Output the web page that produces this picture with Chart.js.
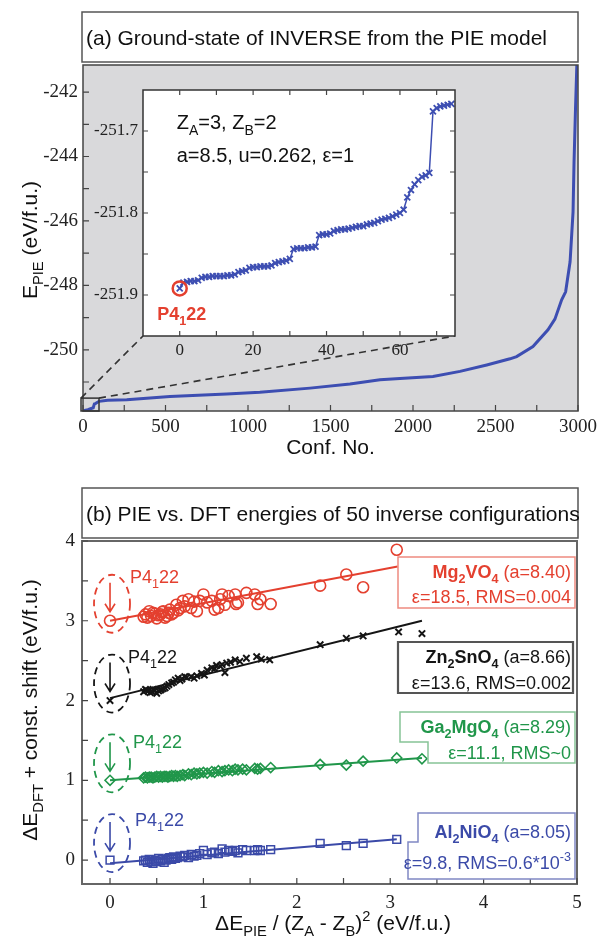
<!DOCTYPE html>
<html>
<head>
<meta charset="utf-8">
<script src="https://cdn.jsdelivr.net/npm/chart.js@4.4.0/dist/chart.umd.min.js"></script>
<style>
  body { margin: 0; background: #fff; width: 601px; height: 938px; position: relative; overflow: hidden; }
  canvas { position: absolute; }
</style>
</head>
<body>
<canvas id="mainChart" width="601" height="470"></canvas>
<canvas id="insetChart" width="380" height="290"></canvas>
<canvas id="pieDftChart" width="601" height="468"></canvas>
<script>
// ---- (a) sorted PIE energies ----
const confNo = [0, 30, 62, 69, 75, 97, 150, 265, 527, 871, 1072, 1376, 1618, 1800, 1921, 2121, 2285, 2447, 2588, 2628, 2727, 2818, 2860, 2901, 2925, 2952, 2970, 2976, 2985, 2993];
const ePie = [-251.89, -251.86, -251.80, -251.68, -251.67, -251.60, -251.57, -251.55, -251.45, -251.37, -251.32, -251.19, -251.06, -250.93, -250.89, -250.83, -250.67, -250.47, -250.28, -250.21, -249.90, -249.38, -249.05, -248.45, -248.20, -247.27, -245.72, -244.17, -242.50, -241.16];

// inset: the 75 lowest configurations (index = conf. no.)
const insetE = [
  -251.892, -251.885, -251.884, -251.883, -251.883, -251.882, -251.879, -251.878, -251.878, -251.877,
  -251.877, -251.877, -251.877, -251.876, -251.876, -251.875, -251.872, -251.871, -251.870, -251.867,
  -251.866, -251.866, -251.865, -251.865, -251.865, -251.864, -251.861, -251.860, -251.859, -251.858,
  -251.856, -251.844, -251.843, -251.843, -251.843, -251.842, -251.842, -251.841, -251.827, -251.826,
  -251.826, -251.825, -251.822, -251.821, -251.820, -251.820, -251.819, -251.818, -251.817, -251.816,
  -251.816, -251.814, -251.813, -251.812, -251.810, -251.808, -251.807, -251.806, -251.804, -251.802,
  -251.800, -251.796, -251.781, -251.772, -251.765, -251.760, -251.756, -251.754, -251.751, -251.676,
  -251.672, -251.670, -251.669, -251.668, -251.667
];

const mainXTicks = [0, 500, 1000, 1500, 2000, 2500, 3000];
const mainYTicks = [-250, -248, -246, -244, -242];
const mainXMarks = [0, 250, 500, 750, 1000, 1250, 1500, 1750, 2000, 2250, 2500, 2750, 3000];
const mainYMarks = [-251, -250, -249, -248, -247, -246, -245, -244, -243, -242];
const insetXTicks = [0, 20, 40, 60];
const insetYTicks = [-251.9, -251.8, -251.7];
const insetXMarks = [0, 10, 20, 30, 40, 50, 60, 70];
const insetYMarks = [-251.9, -251.85, -251.8, -251.75, -251.7];

// ---- (b) PIE vs DFT ----
const mgX = [0, 0.36, 0.38, 0.40, 0.42, 0.44, 0.46, 0.48, 0.50, 0.52, 0.54, 0.56, 0.57, 0.59, 0.61, 0.63, 0.64, 0.66, 0.68, 0.71, 0.73, 0.75, 0.78, 0.80, 0.84, 0.87, 0.90, 0.93, 0.96, 1.00, 1.04, 1.09, 1.12, 1.16, 1.18, 1.20, 1.23, 1.27, 1.34, 1.35, 1.37, 1.46, 1.55, 1.58, 1.61, 1.72, 2.25, 2.53, 2.71, 3.07];
const mgY = [3.00, 3.05, 3.08, 3.04, 3.12, 3.06, 3.10, 3.09, 3.03, 3.07, 3.08, 3.11, 3.12, 3.04, 3.06, 3.10, 3.14, 3.08, 3.10, 3.20, 3.13, 3.16, 3.25, 3.18, 3.27, 3.16, 3.24, 3.12, 3.25, 3.33, 3.23, 3.25, 3.14, 3.16, 3.27, 3.33, 3.20, 3.31, 3.33, 3.21, 3.23, 3.35, 3.33, 3.21, 3.27, 3.21, 3.44, 3.58, 3.42, 3.89];
const znX = [0, 0.36, 0.38, 0.39, 0.41, 0.43, 0.45, 0.46, 0.48, 0.50, 0.52, 0.54, 0.55, 0.57, 0.59, 0.61, 0.63, 0.66, 0.68, 0.70, 0.73, 0.75, 0.77, 0.80, 0.82, 0.87, 0.90, 0.93, 0.98, 1.01, 1.04, 1.09, 1.12, 1.14, 1.18, 1.20, 1.23, 1.25, 1.29, 1.34, 1.39, 1.46, 1.57, 1.62, 1.71, 2.25, 2.53, 2.71, 3.09, 3.34];
const znY = [2.00, 2.11, 2.14, 2.13, 2.12, 2.10, 2.11, 2.14, 2.13, 2.09, 2.12, 2.13, 2.14, 2.15, 2.16, 2.18, 2.20, 2.22, 2.23, 2.26, 2.28, 2.25, 2.27, 2.30, 2.29, 2.30, 2.28, 2.31, 2.34, 2.32, 2.38, 2.41, 2.40, 2.44, 2.43, 2.45, 2.35, 2.47, 2.48, 2.51, 2.49, 2.53, 2.55, 2.52, 2.51, 2.70, 2.78, 2.81, 2.86, 2.84];
const gaX = [0, 0.36, 0.38, 0.40, 0.42, 0.44, 0.46, 0.48, 0.50, 0.52, 0.54, 0.56, 0.58, 0.60, 0.62, 0.64, 0.66, 0.68, 0.70, 0.72, 0.75, 0.78, 0.80, 0.84, 0.87, 0.90, 0.93, 0.96, 1.00, 1.04, 1.09, 1.12, 1.16, 1.20, 1.23, 1.27, 1.31, 1.34, 1.37, 1.42, 1.46, 1.55, 1.58, 1.61, 1.72, 2.25, 2.53, 2.71, 3.07, 3.34];
const gaY = [1.00, 1.03, 1.04, 1.03, 1.04, 1.04, 1.03, 1.04, 1.05, 1.04, 1.05, 1.04, 1.05, 1.05, 1.04, 1.05, 1.06, 1.05, 1.06, 1.05, 1.06, 1.07, 1.06, 1.08, 1.07, 1.09, 1.08, 1.09, 1.10, 1.09, 1.11, 1.10, 1.12, 1.11, 1.12, 1.13, 1.12, 1.14, 1.13, 1.14, 1.13, 1.15, 1.14, 1.15, 1.16, 1.20, 1.19, 1.24, 1.28, 1.27];
const alX = [0, 0.36, 0.38, 0.40, 0.42, 0.44, 0.46, 0.48, 0.50, 0.52, 0.54, 0.56, 0.58, 0.60, 0.62, 0.64, 0.66, 0.68, 0.70, 0.72, 0.75, 0.78, 0.80, 0.84, 0.87, 0.90, 0.93, 0.96, 1.00, 1.04, 1.09, 1.12, 1.16, 1.20, 1.23, 1.27, 1.31, 1.34, 1.37, 1.42, 1.46, 1.55, 1.58, 1.61, 1.72, 2.25, 2.53, 2.71, 3.07];
const alY = [0.00, -0.01, 0.00, -0.03, 0.01, -0.02, -0.04, 0.00, -0.02, 0.02, -0.01, 0.01, -0.03, 0.00, 0.02, 0.03, 0.01, 0.04, 0.02, 0.03, 0.05, 0.04, 0.06, 0.03, 0.07, 0.05, 0.06, 0.08, 0.12, 0.07, 0.09, 0.10, 0.08, 0.14, 0.10, 0.12, 0.11, 0.12, 0.09, 0.13, 0.12, 0.12, 0.13, 0.12, 0.13, 0.21, 0.18, 0.21, 0.26];

// linear fits (end points)
const mgFitX = [0, 3.08], mgFitY = [3.00, 3.68];
const znFitX = [0, 3.34], znFitY = [2.03, 3.00];
const gaFitX = [0, 3.34], gaFitY = [1.00, 1.28];
const alFitX = [0, 3.07], alFitY = [-0.04, 0.26];

const bXTicks = [0, 1, 2, 3, 4, 5];
const bYTicks = [0, 1, 2, 3, 4];
const bXMarks = [0, 0.5, 1, 1.5, 2, 2.5, 3, 3.5, 4, 4.5, 5];
const bYMarks = [0, 0.5, 1, 1.5, 2, 2.5, 3, 3.5, 4];
const groundBase = [3, 2, 1, 0];   // P4122 energy of each compound (shifted)

const RED = '#e4402f', BLACK = '#151515', GREEN = '#20964a', BLUE = '#3b4aa8', LINE_BLUE = '#3d4eb2';
const INSET_LEFT = 88, INSET_TOP = 80;

Chart.defaults.font.family = 'Liberation Sans';
Chart.defaults.animation = false;

// text with sub/superscripts: parts = [[text, 'sub'|'sup'|'', bold]]
function richText(ctx, parts, x, y, o) {
  const fam = o.family || 'Liberation Sans';
  const segs = parts.map(p => {
    const sz = p[1] ? o.size * 0.7 : o.size;
    const font = ((p[2] || o.bold) ? 'bold ' : '') + sz + 'px "' + fam + '"';
    ctx.font = font;
    return { t: p[0], k: p[1], font, w: ctx.measureText(p[0]).width };
  });
  const total = segs.reduce((s, g) => s + g.w, 0);
  let cx = o.align === 'right' ? x - total : o.align === 'center' ? x - total / 2 : x;
  ctx.fillStyle = o.color || '#111';
  ctx.textAlign = 'left';
  ctx.textBaseline = 'alphabetic';
  segs.forEach(g => {
    ctx.font = g.font;
    const dy = g.k === 'sub' ? o.size * 0.28 : g.k === 'sup' ? -o.size * 0.42 : 0;
    ctx.fillText(g.t, cx, y + dy);
    cx += g.w;
  });
}

function inTicks(chart, xs, ys, len, allSides) {
  const { ctx, chartArea: a, scales: { x, y } } = chart;
  ctx.save();
  ctx.strokeStyle = '#444';
  ctx.lineWidth = 1.2;
  ctx.beginPath();
  xs.forEach(v => {
    const p = x.getPixelForValue(v);
    ctx.moveTo(p, a.bottom); ctx.lineTo(p, a.bottom - len);
    if (allSides) { ctx.moveTo(p, a.top); ctx.lineTo(p, a.top + len); }
  });
  ys.forEach(v => {
    const p = y.getPixelForValue(v);
    ctx.moveTo(a.left, p); ctx.lineTo(a.left + len, p);
    if (allSides) { ctx.moveTo(a.right, p); ctx.lineTo(a.right - len, p); }
  });
  ctx.stroke();
  ctx.restore();
}

function frame(chart, color, width) {
  const { ctx, chartArea: a } = chart;
  ctx.save();
  ctx.strokeStyle = color;
  ctx.lineWidth = width;
  ctx.strokeRect(a.left, a.top, a.right - a.left, a.bottom - a.top);
  ctx.restore();
}

function titleBox(ctx, text, x, y, w, h) {
  ctx.save();
  ctx.fillStyle = '#fff';
  ctx.fillRect(x, y, w, h);
  ctx.strokeStyle = '#555';
  ctx.lineWidth = 1.5;
  ctx.strokeRect(x, y, w, h);
  ctx.fillStyle = '#111';
  ctx.font = '21px "Liberation Sans"';
  ctx.textBaseline = 'alphabetic';
  ctx.fillText(text, x + 4, y + h / 2 + 7.5);
  ctx.restore();
}

function scaleOpts(min, max, ticks, size, pad, fontSize, horizontal, fmt) {
  return {
    type: 'linear', min, max,
    afterBuildTicks: s => { s.ticks = ticks.map(v => ({ value: v })); },
    afterFit: s => {
      if (horizontal) { s.height = size; s.paddingLeft = 0; s.paddingRight = 0; }
      else { s.width = size; s.paddingTop = 0; s.paddingBottom = 0; }
    },
    grid: { display: false, drawTicks: false },
    border: { display: false },
    ticks: {
      padding: pad, color: '#222', autoSkip: false, maxRotation: 0,
      font: { family: 'Liberation Serif', size: fontSize },
      callback: fmt || (v => String(v))
    }
  };
}

// ---------- inset ----------
const insetCanvas = document.getElementById('insetChart');
insetCanvas.style.left = INSET_LEFT + 'px';
insetCanvas.style.top = INSET_TOP + 'px';

const insetPlugin = {
  id: 'insetDeco',
  beforeDatasetsDraw(chart) {
    const { ctx, chartArea: a } = chart;
    ctx.save();
    ctx.fillStyle = '#fff';
    ctx.fillRect(a.left, a.top, a.right - a.left, a.bottom - a.top);
    ctx.restore();
  },
  afterDraw(chart) {
    const { ctx, scales: { x, y } } = chart;
    frame(chart, '#333', 1.5);
    inTicks(chart, insetXMarks, insetYMarks, 5, true);
    const l = x.getPixelForValue(0) - 3;
    richText(ctx, [['Z'], ['A', 'sub'], ['=3, Z'], ['B', 'sub'], ['=2']], l, 49, { size: 20 });
    richText(ctx, [['a=8.5, u=0.262, ε=1']], l, 82, { size: 20 });
    const px = x.getPixelForValue(0), py = y.getPixelForValue(insetE[0]);
    richText(ctx, [['P4'], ['1', 'sub'], ['22']], px + 2, py + 32, { size: 18, bold: true, color: RED, align: 'center' });
  }
};

const insetChart = new Chart(insetCanvas, {
  type: 'line',
  data: {
    datasets: [
      {
        data: [{ x: 0, y: insetE[0] }],
        showLine: false, pointStyle: 'circle', pointRadius: 7,
        pointBorderWidth: 2.5, pointBorderColor: RED, pointBackgroundColor: 'rgba(0,0,0,0)'
      },
      {
        data: insetE.map((e, i) => ({ x: i, y: e })),
        borderColor: LINE_BLUE, borderWidth: 1.5, pointStyle: 'crossRot', pointRadius: 4.2,
        pointBorderWidth: 1.8, pointBorderColor: LINE_BLUE, tension: 0
      }
    ]
  },
  options: {
    responsive: false, devicePixelRatio: 1,
    layout: { autoPadding: false, padding: { left: 0, top: 10, right: 13, bottom: 0 } },
    plugins: { legend: { display: false }, tooltip: { enabled: false } },
    scales: {
      x: scaleOpts(-10, 75, insetXTicks, 34, 4, 17, true),
      y: scaleOpts(-251.95, -251.65, insetYTicks, 55, 5, 17, false, v => v.toFixed(1))
    }
  },
  plugins: [insetPlugin]
});

// ---------- (a) main ----------
const mainPlugin = {
  id: 'mainDeco',
  beforeDatasetsDraw(chart) {
    const { ctx, chartArea: a } = chart;
    ctx.save();
    ctx.fillStyle = '#d9d9db';
    ctx.fillRect(a.left, a.top, a.right - a.left, a.bottom - a.top);
    ctx.restore();
  },
  afterDraw(chart) {
    const { ctx, chartArea: a, scales: { x, y } } = chart;
    frame(chart, '#444', 1.5);
    inTicks(chart, mainXMarks, mainYMarks, 6, false);
    // zoom box and guide lines to the inset
    const rl = x.getPixelForValue(-12), rr = x.getPixelForValue(97), rt = y.getPixelForValue(-251.5);
    ctx.save();
    ctx.strokeStyle = '#333';
    ctx.lineWidth = 1.5;
    ctx.strokeRect(rl, rt, rr - rl, a.bottom - rt);
    const ia = insetChart.chartArea;
    ctx.setLineDash([7, 5]);
    ctx.lineWidth = 1.6;
    ctx.beginPath();
    ctx.moveTo(rl, rt); ctx.lineTo(INSET_LEFT + ia.left, INSET_TOP + ia.bottom);
    ctx.moveTo(rr, rt); ctx.lineTo(INSET_LEFT + ia.right, INSET_TOP + ia.bottom);
    ctx.stroke();
    ctx.restore();
    titleBox(ctx, '(a) Ground-state of INVERSE from the PIE model', 82, 12, 496, 50);
    // axis titles
    richText(ctx, [['Conf. No.']], (a.left + a.right) / 2, 454, { size: 21, align: 'center' });
    ctx.save();
    ctx.translate(30, 240);
    ctx.rotate(-Math.PI / 2);
    richText(ctx, [['E'], ['PIE', 'sub'], [' (eV/f.u.)']], 0, 7, { size: 21, align: 'center' });
    ctx.restore();
  }
};

new Chart(document.getElementById('mainChart'), {
  type: 'line',
  data: {
    datasets: [{
      data: confNo.map((c, i) => ({ x: c, y: ePie[i] })),
      borderColor: LINE_BLUE, borderWidth: 3, pointRadius: 0, tension: 0
    }]
  },
  options: {
    responsive: false, devicePixelRatio: 1,
    layout: { autoPadding: false, padding: { left: 0, top: 65, right: 23, bottom: 0 } },
    plugins: { legend: { display: false }, tooltip: { enabled: false } },
    scales: {
      x: scaleOpts(0, 3000, mainXTicks, 59, 5, 19, true),
      y: scaleOpts(-251.9, -241.16, mainYTicks, 83, 5, 19, false)
    }
  },
  plugins: [mainPlugin]
});

// ---------- (b) PIE vs DFT ----------
const markerStyle = [
  { color: RED, dx: 20, dy: 38 },
  { color: BLACK, dx: 18, dy: 38 },
  { color: GREEN, dx: 23, dy: 32 },
  { color: BLUE, dx: 25, dy: 34 }
];

function legendBox(ctx, pts, color, lw) {
  ctx.save();
  ctx.fillStyle = '#fff';
  ctx.strokeStyle = color;
  ctx.lineWidth = lw;
  ctx.beginPath();
  pts.forEach((p, i) => i ? ctx.lineTo(p[0], p[1]) : ctx.moveTo(p[0], p[1]));
  ctx.closePath();
  ctx.fill();
  ctx.stroke();
  ctx.restore();
}

const bPlugin = {
  id: 'pieDftDeco',
  afterDraw(chart) {
    const { ctx, chartArea: a, scales: { x, y } } = chart;
    frame(chart, '#666', 2);
    inTicks(chart, bXMarks, bYMarks, 6, false);
    // P4122 markers
    groundBase.forEach((b, i) => {
      const s = markerStyle[i];
      const px = x.getPixelForValue(0), py = y.getPixelForValue(b);
      ctx.save();
      ctx.strokeStyle = s.color;
      ctx.lineWidth = 1.8;
      ctx.setLineDash([7, 5]);
      ctx.beginPath();
      ctx.ellipse(px + 2, py - 17, 18, 29, 0, 0, 2 * Math.PI);
      ctx.stroke();
      ctx.setLineDash([]);
      ctx.lineWidth = 1.6;
      ctx.beginPath();
      ctx.moveTo(px, py - 38); ctx.lineTo(px, py - 9);
      ctx.moveTo(px - 5, py - 17); ctx.lineTo(px, py - 9); ctx.lineTo(px + 5, py - 17);
      ctx.stroke();
      ctx.restore();
      richText(ctx, [['P4'], ['1', 'sub'], ['22']], px + s.dx, py - s.dy, { size: 18, color: s.color });
    });
    // labels
    const R = a.right - 2, T = 571;
    legendBox(ctx, [[398, 87], [R, 87], [R, 138], [398, 138]], '#ee8a80', 1.5);
    richText(ctx, [['Mg', '', 1], ['2', 'sub', 1], ['VO', '', 1], ['4', 'sub', 1], [' (a=8.40)']], T, 108, { size: 18, color: RED, align: 'right' });
    richText(ctx, [['ε=18.5, RMS=0.004']], T, 133, { size: 18, color: RED, align: 'right' });

    legendBox(ctx, [[398, 172], [R - 2, 172], [R - 2, 223], [398, 223]], '#555', 2.2);
    richText(ctx, [['Zn', '', 1], ['2', 'sub', 1], ['SnO', '', 1], ['4', 'sub', 1], [' (a=8.66)']], T, 193, { size: 18, color: BLACK, align: 'right' });
    richText(ctx, [['ε=13.6, RMS=0.002']], T, 219, { size: 18, color: BLACK, align: 'right' });

    legendBox(ctx, [[400, 242], [R, 242], [R, 293], [428, 293], [428, 272], [400, 272]], '#86c496', 1.5);
    richText(ctx, [['Ga', '', 1], ['2', 'sub', 1], ['MgO', '', 1], ['4', 'sub', 1], [' (a=8.29)']], T, 263, { size: 18, color: GREEN, align: 'right' });
    richText(ctx, [['ε=11.1, RMS~0']], T, 289, { size: 18, color: GREEN, align: 'right' });

    legendBox(ctx, [[418, 343], [R, 343], [R, 409], [408, 409], [408, 372], [418, 372]], '#8088c4', 1.5);
    richText(ctx, [['Al', '', 1], ['2', 'sub', 1], ['NiO', '', 1], ['4', 'sub', 1], [' (a=8.05)']], T, 368, { size: 18, color: BLUE, align: 'right' });
    richText(ctx, [['ε=9.8, RMS=0.6*10'], ['-3', 'sup']], T, 399, { size: 18, color: BLUE, align: 'right' });

    titleBox(ctx, '(b) PIE vs. DFT energies of 50 inverse configurations', 82, 18, 496, 50);
    // axis titles
    richText(ctx, [['ΔE'], ['PIE', 'sub'], [' / (Z'], ['A', 'sub'], [' - Z'], ['B', 'sub'], [')'], ['2', 'sup'], [' (eV/f.u.)']],
      333, 460, { size: 21, align: 'center' });
    ctx.save();
    ctx.translate(30, 240);
    ctx.rotate(-Math.PI / 2);
    richText(ctx, [['ΔE'], ['DFT', 'sub'], [' + const. shift (eV/f.u.)']], 0, 7, { size: 21, align: 'center' });
    ctx.restore();
  }
};

function pts(xs, ys) { return xs.map((v, i) => ({ x: v, y: ys[i] })); }
function fitSet(xs, ys, color) {
  return { data: pts(xs, ys), borderColor: color, borderWidth: 2, pointRadius: 0, tension: 0 };
}
function markSet(xs, ys, color, style, r, bw) {
  return {
    data: pts(xs, ys), showLine: false, pointStyle: style, pointRadius: r,
    pointBorderWidth: bw, pointBorderColor: color, pointBackgroundColor: 'rgba(0,0,0,0)'
  };
}

const bCanvas = document.getElementById('pieDftChart');
bCanvas.style.top = '470px';
new Chart(bCanvas, {
  type: 'line',
  data: {
    datasets: [
      fitSet(mgFitX, mgFitY, RED), markSet(mgX, mgY, RED, 'circle', 5.5, 1.6),
      fitSet(znFitX, znFitY, BLACK), markSet(znX, znY, BLACK, 'crossRot', 4.5, 2),
      fitSet(gaFitX, gaFitY, GREEN), markSet(gaX, gaY, GREEN, 'rectRot', 5, 1.6),
      fitSet(alFitX, alFitY, BLUE), markSet(alX, alY, BLUE, 'rect', 5.5, 1.5)
    ]
  },
  options: {
    responsive: false, devicePixelRatio: 1,
    layout: { autoPadding: false, padding: { left: 0, top: 71, right: 24, bottom: 0 } },
    plugins: { legend: { display: false }, tooltip: { enabled: false } },
    scales: {
      x: scaleOpts(-0.3, 5, bXTicks, 54, 8, 19, true),
      y: scaleOpts(-0.3, 4, bYTicks, 82, 7, 19, false)
    }
  },
  plugins: [bPlugin]
});
</script>
</body>
</html>
